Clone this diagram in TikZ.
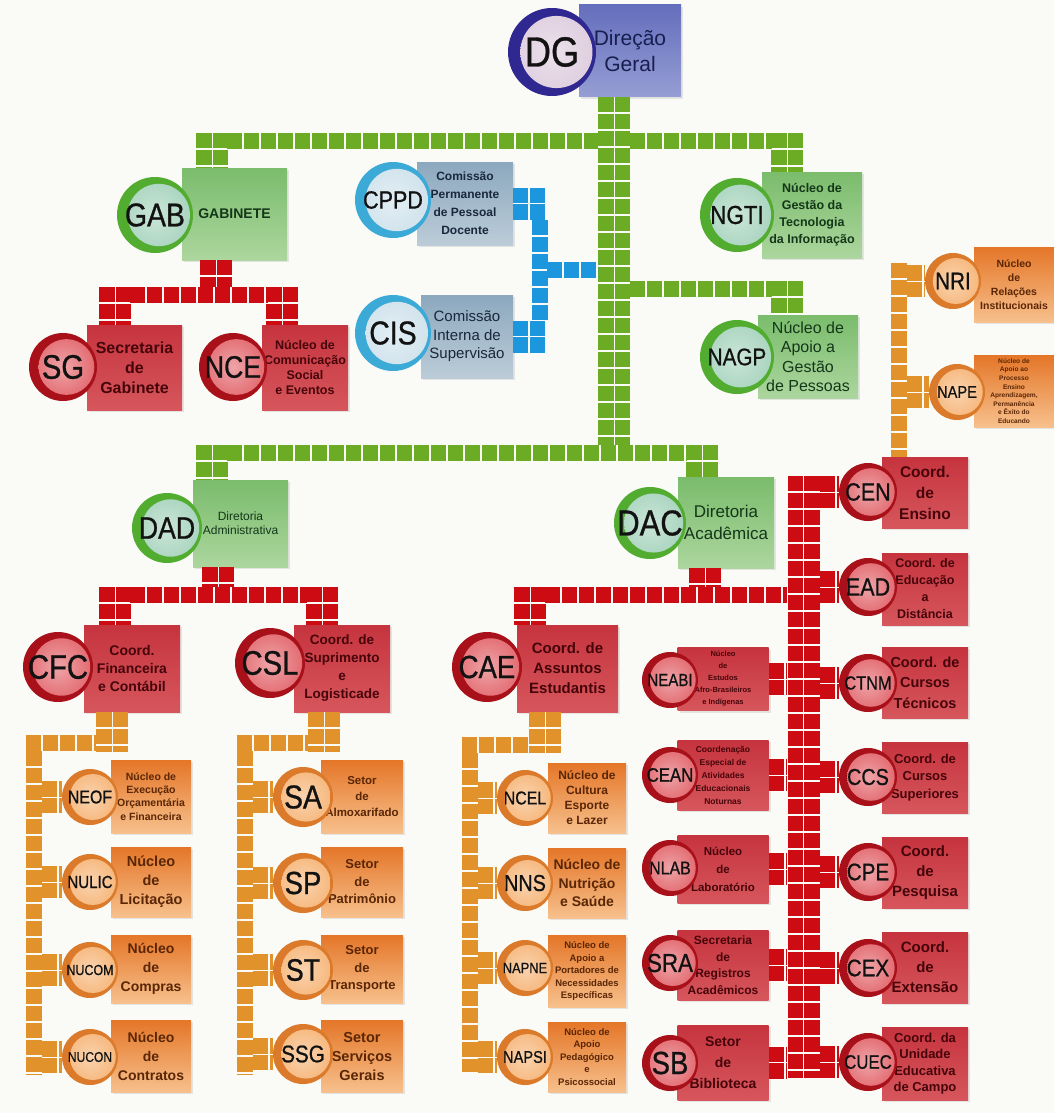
\documentclass[tikz,border=0pt]{standalone}
\usepackage{fontspec}
\setmainfont{Liberation Sans}
\newfontfamily\siglafont[FakeStretch=0.86,FakeBold=0.8]{Liberation Sans}
\usetikzlibrary{calc,shadows}

\definecolor{fundo}{RGB}{250,250,247}
\definecolor{dgA}{RGB}{100,110,188}
\definecolor{dgB}{RGB}{150,158,212}
\definecolor{dgT}{RGB}{25,30,80}
\definecolor{dgAnel}{RGB}{48,40,145}
\definecolor{dgMiolo}{RGB}{222,205,222}
\definecolor{verdeA}{RGB}{122,188,108}
\definecolor{verdeB}{RGB}{172,214,158}
\definecolor{verdeT}{RGB}{20,55,25}
\definecolor{verdeAnel}{RGB}{82,172,48}
\definecolor{verdeMiolo}{RGB}{168,212,190}
\definecolor{azulA}{RGB}{140,168,190}
\definecolor{azulB}{RGB}{188,204,216}
\definecolor{azulT}{RGB}{25,40,60}
\definecolor{azulAnel}{RGB}{60,170,215}
\definecolor{azulMiolo}{RGB}{208,226,236}
\definecolor{vermA}{RGB}{198,52,62}
\definecolor{vermB}{RGB}{214,86,92}
\definecolor{vermT}{RGB}{70,5,10}
\definecolor{vermAnel}{RGB}{168,16,26}
\definecolor{vermMiolo}{RGB}{226,104,110}
\definecolor{larA}{RGB}{228,118,40}
\definecolor{larB}{RGB}{247,192,140}
\definecolor{larT}{RGB}{90,38,5}
\definecolor{larAnel}{RGB}{218,122,42}
\definecolor{larMiolo}{RGB}{246,182,122}
\definecolor{siglaT}{RGB}{18,18,18}
\definecolor{tVerde}{RGB}{108,172,36}
\definecolor{tVerm}{RGB}{204,12,18}
\definecolor{tLar}{RGB}{226,146,42}
\definecolor{tAzul}{RGB}{28,150,220}

\newcommand{\txcx}[2]{\bfseries\fontsize{#1}{#2}\selectfont}
\newcommand{\fz}[2]{\fontsize{#1}{#2}\selectfont}
\newcommand{\sigla}[1]{\siglafont\fontsize{#1}{#1}\selectfont}

\begin{document}
\begin{tikzpicture}[x=1pt,y=-1pt,
  caixa/.style={rectangle, inner sep=1pt, align=center,
    drop shadow={opacity=0.18, shadow xshift=2pt, shadow yshift=-2pt}},
  cx-dg/.style={caixa, top color=dgA, bottom color=dgB, text=dgT},
  cx-verde/.style={caixa, top color=verdeA, bottom color=verdeB, text=verdeT},
  cx-azul/.style={caixa, top color=azulA, bottom color=azulB, text=azulT},
  cx-verm/.style={caixa, top color=vermA, bottom color=vermB, text=vermT},
  cx-lar/.style={caixa, top color=larA, bottom color=larB, text=larT},
  bola/.style 2 args={circle, inner sep=0pt, fill=#1, text=siglaT,
    path picture={\shade[inner color=#2!60!white, outer color=#2]
      let \p1=(path picture bounding box.center), \p2=(path picture bounding box.east),
      \n1={\x2-\x1} in (\x1+0.1*\n1,\y1) circle [radius=0.82*\n1];}},
  bola-dg/.style={bola={dgAnel}{dgMiolo}},
  bola-verde/.style={bola={verdeAnel}{verdeMiolo}},
  bola-azul/.style={bola={azulAnel}{azulMiolo}},
  bola-verm/.style={bola={vermAnel}{vermMiolo}},
  bola-lar/.style={bola={larAnel}{larMiolo}},
  tile/.style={line width=16pt, dash pattern=on 15pt off 2pt},
  tile2/.style={line width=15.5pt, double distance=1pt, dash pattern=on 15pt off 2pt},
  verde/.style={tile, draw=tVerde}, verde2/.style={tile2, draw=tVerde, double=fundo},
  azul/.style={tile, draw=tAzul}, azul2/.style={tile2, draw=tAzul, double=fundo},
  verm/.style={tile, draw=tVerm}, verm2/.style={tile2, draw=tVerm, double=fundo},
  lar/.style={tile, draw=tLar}, lar2/.style={tile2, draw=tLar, double=fundo}]

\useasboundingbox (0,0) rectangle (1054,1113);
\fill[fundo] (0,0) rectangle (1054,1113);

% direcao geral
\node at (630,51) [cx-dg, minimum width=102pt, minimum height=92pt, font=\fz{21}{26}] (dg-caixa) {Direção\\Geral};
\node at (552,52) [bola-dg, minimum size=88pt, font=\sigla{42}] (dg) {DG};

% gabinete e comissoes
\node at (234.5,214) [cx-verde, minimum width=105pt, minimum height=92pt, font=\txcx{14}{16}] (gab-caixa) {GABINETE};
\node at (155,215) [bola-verde, minimum size=76pt, font=\sigla{33}] (gab) {GAB};
\node at (134.5,367.5) [cx-verm, minimum width=95pt, minimum height=85pt, font=\txcx{16}{20}] (sg-caixa) {Secretaria\\de\\Gabinete};
\node at (63,367) [bola-verm, minimum size=68pt, font=\sigla{34}] (sg) {SG};
\node at (305,367.5) [cx-verm, minimum width=86pt, minimum height=85pt, font=\txcx{12.5}{15}] (nce-caixa) {Núcleo de\\Comunicação\\Social\\e Eventos};
\node at (233,367) [bola-verm, minimum size=68pt, font=\sigla{31}] (nce) {NCE};
\node at (465,203.5) [cx-azul, minimum width=96pt, minimum height=83pt, font=\txcx{12}{18}] (cppd-caixa) {Comissão\\Permanente\\de Pessoal\\Docente};
\node at (393,200) [bola-azul, minimum size=76pt, font=\sigla{25}] (cppd) {CPPD};
\node at (467,336.5) [cx-azul, minimum width=92pt, minimum height=83pt, font=\fz{15}{18.5}] (cis-caixa) {Comissão\\Interna de\\Supervisão};
\node at (393,333) [bola-azul, minimum size=76pt, font=\sigla{33}] (cis) {CIS};
\node at (812,215) [cx-verde, minimum width=100pt, minimum height=86pt, font=\txcx{12.5}{17}] (ngti-caixa) {Núcleo de\\Gestão da\\Tecnologia\\da Informação};
\node at (737,215) [bola-verde, minimum size=74pt, font=\sigla{26}] (ngti) {NGTI};
\node at (808,356.5) [cx-verde, minimum width=100pt, minimum height=83pt, font=\fz{16}{19.5}] (nagp-caixa) {Núcleo de\\Apoio a\\Gestão\\de Pessoas};
\node at (737,357) [bola-verde, minimum size=74pt, font=\sigla{24}] (nagp) {NAGP};
\node at (1014,284.5) [cx-lar, minimum width=80pt, minimum height=75pt, font=\txcx{10.5}{14}] (nri-caixa) {Núcleo\\de\\Relações\\Institucionais};
\node at (953,281) [bola-lar, minimum size=56pt, font=\sigla{24}] (nri) {NRI};
\node at (1014,391) [cx-lar, minimum width=80pt, minimum height=72pt, font=\txcx{6.6}{8.6}] (nape-caixa) {Núcleo de\\Apoio ao\\Processo\\Ensino\\Aprendizagem,\\Permanência\\e Êxito do\\Educando};
\node at (957,392) [bola-lar, minimum size=56pt, font=\sigla{17}] (nape) {NAPE};

% diretorias
\node at (240.5,523.5) [cx-verde, minimum width=95pt, minimum height=87pt, font=\fz{12}{14}] (dad-caixa) {Diretoria\\Administrativa};
\node at (167,528) [bola-verde, minimum size=70pt, font=\sigla{31}] (dad) {DAD};
\node at (726,522.5) [cx-verde, minimum width=96pt, minimum height=91pt, font=\fz{17}{22}] (dac-caixa) {Diretoria\\Acadêmica};
\node at (650,523) [bola-verde, minimum size=72pt, font=\sigla{36}] (dac) {DAC};

% coordenacoes
\node at (132,668.5) [cx-verm, minimum width=96pt, minimum height=87pt, font=\txcx{14}{18}] (cfc-caixa) {Coord.\\Financeira\\e Contábil};
\node at (58,667) [bola-verm, minimum size=70pt, font=\sigla{34}] (cfc) {CFC};
\node at (342,668.5) [cx-verm, minimum width=96pt, minimum height=87pt, font=\txcx{13.5}{18}] (csl-caixa) {Coord. de\\Suprimento\\e\\Logisticade};
\node at (270,663) [bola-verm, minimum size=70pt, font=\sigla{34}] (csl) {CSL};
\node at (567.5,668.5) [cx-verm, minimum width=101pt, minimum height=87pt, font=\txcx{15}{20}] (cae-caixa) {Coord. de\\Assuntos\\Estudantis};
\node at (487,667) [bola-verm, minimum size=70pt, font=\sigla{32}] (cae) {CAE};

% nucleos da CFC
\node at (151,796.5) [cx-lar, minimum width=80pt, minimum height=73pt, font=\txcx{10.5}{13.3}] (neof-caixa) {Núcleo de\\Execução\\Orçamentária\\e Financeira};
\node at (90,797) [bola-lar, minimum size=56pt, font=\sigla{18.5}] (neof) {NEOF};
\node at (151,882) [cx-lar, minimum width=80pt, minimum height=70pt, font=\txcx{14.5}{19}] (nulic-caixa) {Núcleo\\de\\Licitação};
\node at (90,882) [bola-lar, minimum size=56pt, font=\sigla{17.5}] (nulic) {NULIC};
\node at (151,969) [cx-lar, minimum width=80pt, minimum height=68pt, font=\txcx{14}{19}] (nucom-caixa) {Núcleo\\de\\Compras};
\node at (90,970) [bola-lar, minimum size=56pt, font=\sigla{14.5}] (nucom) {NUCOM};
\node at (151,1056) [cx-lar, minimum width=80pt, minimum height=72pt, font=\txcx{14}{19}] (nucon-caixa) {Núcleo\\de\\Contratos};
\node at (90,1057) [bola-lar, minimum size=56pt, font=\sigla{14}] (nucon) {NUCON};

% setores da CSL
\node at (362,796.5) [cx-lar, minimum width=82pt, minimum height=73pt, font=\txcx{11.5}{16}] (sa-caixa) {Setor\\de\\Almoxarifado};
\node at (303,797) [bola-lar, minimum size=60pt, font=\sigla{33}] (sa) {SA};
\node at (362,882) [cx-lar, minimum width=82pt, minimum height=70pt, font=\txcx{13}{17.5}] (sp-caixa) {Setor\\de\\Patrimônio};
\node at (303,883) [bola-lar, minimum size=60pt, font=\sigla{32}] (sp) {SP};
\node at (362,969) [cx-lar, minimum width=82pt, minimum height=68pt, font=\txcx{13}{17.5}] (st-caixa) {Setor\\de\\Transporte};
\node at (303,970) [bola-lar, minimum size=60pt, font=\sigla{31}] (st) {ST};
\node at (362,1056) [cx-lar, minimum width=82pt, minimum height=72pt, font=\txcx{14.5}{19}] (ssg-caixa) {Setor\\Serviços\\Gerais};
\node at (303,1054) [bola-lar, minimum size=60pt, font=\sigla{24}] (ssg) {SSG};

% nucleos da CAE
\node at (587,798) [cx-lar, minimum width=78pt, minimum height=70pt, font=\txcx{12}{15}] (ncel-caixa) {Núcleo de\\Cultura\\Esporte\\e Lazer};
\node at (525,798) [bola-lar, minimum size=56pt, font=\sigla{18.5}] (ncel) {NCEL};
\node at (587,883) [cx-lar, minimum width=78pt, minimum height=70pt, font=\txcx{14}{18.5}] (nns-caixa) {Núcleo de\\Nutrição\\e Saúde};
\node at (525,883) [bola-lar, minimum size=56pt, font=\sigla{23}] (nns) {NNS};
\node at (587,971) [cx-lar, minimum width=78pt, minimum height=72pt, font=\txcx{9.5}{12.5}] (napne-caixa) {Núcleo de\\Apoio a\\Portadores de\\Necessidades\\Específicas};
\node at (525,968) [bola-lar, minimum size=56pt, font=\sigla{15}] (napne) {NAPNE};
\node at (587,1057) [cx-lar, minimum width=78pt, minimum height=70pt, font=\txcx{9.5}{12.5}] (napsi-caixa) {Núcleo de\\Apoio\\Pedagógico\\e\\Psicossocial};
\node at (525,1057) [bola-lar, minimum size=56pt, font=\sigla{17}] (napsi) {NAPSI};

% coluna do meio da DAC
\node at (723,679) [cx-verm, minimum width=91pt, minimum height=63pt, font=\txcx{7.5}{12}] (neabi-caixa) {Núcleo\\de\\Estudos\\Afro-Brasileiros\\e Indígenas};
\node at (670,680) [bola-verm, minimum size=56pt, font=\sigla{17.5}] (neabi) {NEABI};
\node at (723,775) [cx-verm, minimum width=91pt, minimum height=70pt, font=\txcx{8.5}{13}] (cean-caixa) {Coordenação\\Especial de\\Atividades\\Educacionais\\Noturnas};
\node at (670,775) [bola-verm, minimum size=56pt, font=\sigla{19.5}] (cean) {CEAN};
\node at (723,869) [cx-verm, minimum width=91pt, minimum height=68pt, font=\txcx{11.5}{18}] (nlab-caixa) {Núcleo\\de\\Laboratório};
\node at (670,868) [bola-verm, minimum size=56pt, font=\sigla{18.5}] (nlab) {NLAB};
\node at (723,965) [cx-verm, minimum width=91pt, minimum height=70pt, font=\txcx{12}{16.5}] (sra-caixa) {Secretaria\\de\\Registros\\Acadêmicos};
\node at (670,963) [bola-verm, minimum size=56pt, font=\sigla{26}] (sra) {SRA};
\node at (723,1062.5) [cx-verm, minimum width=91pt, minimum height=75pt, font=\txcx{14}{21}] (sb-caixa) {Setor\\de\\Biblioteca};
\node at (670,1063) [bola-verm, minimum size=56pt, font=\sigla{32}] (sb) {SB};

% coluna da direita da DAC
\node at (925,492.5) [cx-verm, minimum width=86pt, minimum height=71pt, font=\txcx{15.5}{21}] (cen-caixa) {Coord.\\de\\Ensino};
\node at (868,492) [bola-verm, minimum size=58pt, font=\sigla{25}] (cen) {CEN};
\node at (925,589) [cx-verm, minimum width=86pt, minimum height=72pt, font=\txcx{12.5}{17}] (ead-caixa) {Coord. de\\Educação\\a\\Distância};
\node at (868,587) [bola-verm, minimum size=58pt, font=\sigla{25}] (ead) {EAD};
\node at (925,682.5) [cx-verm, minimum width=86pt, minimum height=71pt, font=\txcx{14.5}{20.5}] (ctnm-caixa) {Coord. de\\Cursos\\Técnicos};
\node at (868,683) [bola-verm, minimum size=58pt, font=\sigla{19}] (ctnm) {CTNM};
\node at (925,777.5) [cx-verm, minimum width=86pt, minimum height=71pt, font=\txcx{13}{17.5}] (ccs-caixa) {Coord. de\\Cursos\\Superiores};
\node at (868,777) [bola-verm, minimum size=58pt, font=\sigla{23}] (ccs) {CCS};
\node at (925,872.5) [cx-verm, minimum width=86pt, minimum height=71pt, font=\txcx{15}{20}] (cpe-caixa) {Coord.\\de\\Pesquisa};
\node at (868,872) [bola-verm, minimum size=58pt, font=\sigla{24}] (cpe) {CPE};
\node at (925,967.5) [cx-verm, minimum width=86pt, minimum height=71pt, font=\txcx{15}{20}] (cex-caixa) {Coord.\\de\\Extensão};
\node at (868,968) [bola-verm, minimum size=58pt, font=\sigla{24}] (cex) {CEX};
\node at (925,1063.5) [cx-verm, minimum width=86pt, minimum height=73pt, font=\txcx{13}{16.5}] (cuec-caixa) {Coord. da\\Unidade\\Educativa\\de Campo};
\node at (868,1062) [bola-verm, minimum size=58pt, font=\sigla{19.5}] (cuec) {CUEC};

% ligacoes verdes
\coordinate (tronco) at (614,445);
\coordinate (gab-topo) at (212,133);
\coordinate (ngti-topo) at (787,133);
\coordinate (nagp-topo) at (787,281);
\coordinate (dad-topo) at (212,445);
\coordinate (dac-topo) at (702,445);
\coordinate (lv1) at (227,141); \coordinate (lv2) at (598,141);
\coordinate (lv3) at (630,141); \coordinate (lv4) at (772,141);
\coordinate (lv5) at (630,289); \coordinate (lv6) at (772,289);
\coordinate (lv7) at (227,453); \coordinate (lv8) at (687,453);
\draw[verde2] (dg-caixa.south -| tronco) -- (tronco);
\draw[verde] (lv1) -- (lv2) (lv3) -- (lv4) (lv5) -- (lv6) (lv7) -- (lv8);
\draw[verde2] (gab-topo) -- (gab-topo |- gab-caixa.north)
  (ngti-topo) -- (ngti-topo |- ngti-caixa.north)
  (nagp-topo) -- (nagp-topo |- nagp-caixa.north)
  (dad-topo) -- (dad-topo |- dad-caixa.north)
  (dac-topo) -- (dac-topo |- dac-caixa.north);

% ligacoes azuis
\coordinate (az-x) at (547,0);
\coordinate (az1) at (539.5,219.5); \coordinate (az2) at (539.5,320.5);
\coordinate (az3) at (547,270); \coordinate (az4) at (598,270);
\draw[azul2] (cppd-caixa.east) -- (cppd-caixa.east -| az-x)
  (cis-caixa.east) -- (cis-caixa.east -| az-x);
\draw[azul] (az1) -- (az2) (az3) -- (az4);

% ligacoes vermelhas
\coordinate (vg1) at (216,287);
\coordinate (vg2) at (130,295); \coordinate (vg3) at (268,295);
\coordinate (sg-topo) at (115,287); \coordinate (nce-topo) at (282,287);
\draw[verm2] (gab-caixa.south -| vg1) -- (vg1);
\draw[verm] (vg2) -- (vg3);
\draw[verm2] (sg-topo) -- (sg-topo |- sg-caixa.north)
  (nce-topo) -- (nce-topo |- nce-caixa.north);

\coordinate (vd1) at (218,587);
\coordinate (vd2) at (130,595); \coordinate (vd3) at (307,595);
\coordinate (cfc-topo) at (115,587); \coordinate (csl-topo) at (322,587);
\draw[verm2] (dad-caixa.south -| vd1) -- (vd1);
\draw[verm] (vd2) -- (vd3);
\draw[verm2] (cfc-topo) -- (cfc-topo |- cfc-caixa.north)
  (csl-topo) -- (csl-topo |- csl-caixa.north);

\coordinate (vc1) at (705,587);
\coordinate (vc2) at (545,595); \coordinate (vc3) at (787,595);
\coordinate (cae-topo) at (530,587);
\draw[verm2] (dac-caixa.south -| vc1) -- (vc1);
\draw[verm] (vc2) -- (vc3);
\draw[verm2] (cae-topo) -- (cae-topo |- cae-caixa.north);

\coordinate (v-topo) at (803.5,476); \coordinate (v-base) at (803.5,1078);
\coordinate (v-dir) at (820,0); \coordinate (v-esq) at (787,0);
\draw[verm2] (v-topo) -- (v-base);
\draw[verm2] (cen.west -| v-dir) -- (cen.west)
  (ead.west -| v-dir) -- (ead.west)
  (ctnm.west -| v-dir) -- (ctnm.west)
  (ccs.west -| v-dir) -- (ccs.west)
  (cpe.west -| v-dir) -- (cpe.west)
  (cex.west -| v-dir) -- (cex.west)
  (cuec.west -| v-dir) -- (cuec.west);
\draw[verm2] (neabi-caixa.east) -- (neabi-caixa.east -| v-esq)
  (cean-caixa.east) -- (cean-caixa.east -| v-esq)
  (nlab-caixa.east) -- (nlab-caixa.east -| v-esq)
  (sra-caixa.east) -- (sra-caixa.east -| v-esq)
  (sb-caixa.east) -- (sb-caixa.east -| v-esq);

% ligacoes laranja
\coordinate (lf1) at (112,752);
\coordinate (lf2) at (26,743); \coordinate (lf3) at (96,743);
\coordinate (lf4) at (34,751); \coordinate (lf5) at (34,1075);
\coordinate (lf-x) at (42,0);
\draw[lar2] (cfc-caixa.south -| lf1) -- (lf1);
\draw[lar] (lf2) -- (lf3) (lf4) -- (lf5);
\draw[lar2] (neof.west -| lf-x) -- (neof.west)
  (nulic.west -| lf-x) -- (nulic.west)
  (nucom.west -| lf-x) -- (nucom.west)
  (nucon.west -| lf-x) -- (nucon.west);

\coordinate (lc1) at (324,752);
\coordinate (lc2) at (237,743); \coordinate (lc3) at (308,743);
\coordinate (lc4) at (245,751); \coordinate (lc5) at (245,1075);
\coordinate (lc-x) at (253,0);
\draw[lar2] (csl-caixa.south -| lc1) -- (lc1);
\draw[lar] (lc2) -- (lc3) (lc4) -- (lc5);
\draw[lar2] (sa.west -| lc-x) -- (sa.west)
  (sp.west -| lc-x) -- (sp.west)
  (st.west -| lc-x) -- (st.west)
  (ssg.west -| lc-x) -- (ssg.west);

\coordinate (le1) at (545,753);
\coordinate (le2) at (462,745); \coordinate (le3) at (529,745);
\coordinate (le4) at (470,753); \coordinate (le5) at (470,1072);
\coordinate (le-x) at (478,0);
\draw[lar2] (cae-caixa.south -| le1) -- (le1);
\draw[lar] (le2) -- (le3) (le4) -- (le5);
\draw[lar2] (ncel.west -| le-x) -- (ncel.west)
  (nns.west -| le-x) -- (nns.west)
  (napne.west -| le-x) -- (napne.west)
  (napsi.west -| le-x) -- (napsi.west);

\coordinate (lr1) at (898.5,263);
\coordinate (lr-x) at (906.5,0);
\draw[lar] (lr1) -- (lr1 |- cen-caixa.north);
\draw[lar2] (nri.west -| lr-x) -- (nri.west)
  (nape.west -| lr-x) -- (nape.west);

\end{tikzpicture}
\end{document}
